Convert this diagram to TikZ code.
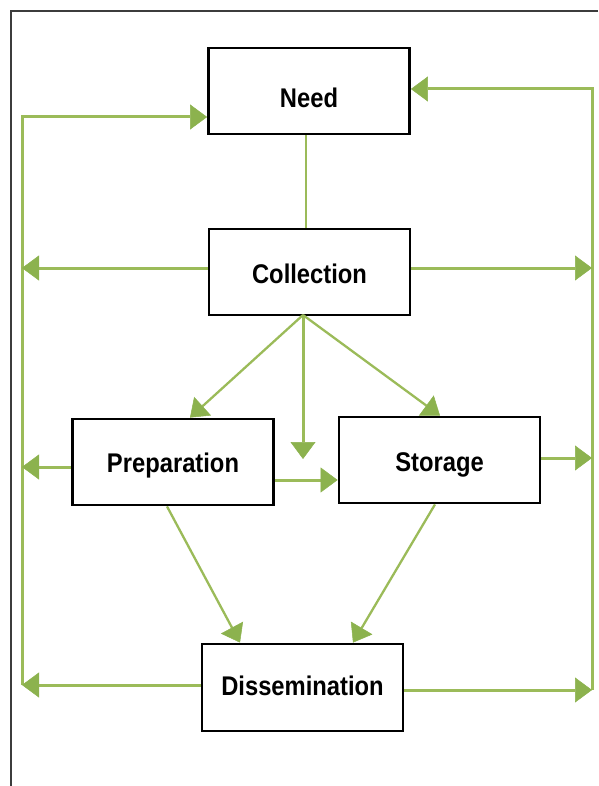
\documentclass[tikz,border=0pt]{standalone}
\usepackage{fontspec}
\newfontfamily\labelfont[FakeStretch=0.88]{Liberation Sans}
\usetikzlibrary{arrows.meta}
\definecolor{flowgreen}{RGB}{155,187,89}
\definecolor{headgreen}{RGB}{140,178,78}
\definecolor{framegray}{RGB}{60,60,60}
\tikzset{
  stage/.style={draw=black, line width=2.8pt, fill=white, inner sep=0pt,
    minimum width=201pt, minimum height=86pt, text depth=0pt,
    font=\labelfont\bfseries\fontsize{27}{30}\selectfont},
  flow/.style={draw=flowgreen, line width=3pt,
    -{Triangle[length=17pt,width=25pt,color=headgreen,fill=headgreen,line width=0.5pt]}},
  thinflow/.style={flow, line width=2.3pt},
  bus/.style={draw=flowgreen, line width=3pt}
}
\begin{document}
\begin{tikzpicture}[x=1pt,y=-1pt]
  \useasboundingbox (0,0) rectangle (598,786);
  % page frame
  \draw[framegray, line width=1.3pt] (598,11) -- (11,11) -- (11,786);

  % stages
  \node[stage, text height=33pt] (need) at (309,91) {Need};
  \node[stage, text height=23pt] (coll) at (309.5,272) {Collection};
  \node[stage, text height=20pt] (prep) at (173,462) {Preparation};
  \node[stage, text height=23pt] (stor) at (439.5,460) {Storage};
  \node[stage, minimum height=87pt, text height=15pt] (diss) at (302.5,687.5) {Dissemination};

  % feedback buses
  \coordinate (lbT) at (22,117);
  \coordinate (lbC) at (22,268);
  \coordinate (lbP) at (22,467);
  \coordinate (lbD) at (22,685);
  \coordinate (rbT) at (592,89);
  \coordinate (rbC) at (592,268);
  \coordinate (rbS) at (592,458);
  \coordinate (rbD) at (592,690);

  \draw[flow] (lbD) -- (lbT) -- (need.west |- lbT);
  \draw[flow] (rbD) -- (rbT) -- (need.east |- rbT);

  % stage outputs to the buses
  \draw[flow] (coll.west |- lbC) -- (lbC);
  \draw[flow] (prep.west |- lbP) -- (lbP);
  \draw[flow] (diss.west |- lbD) -- (lbD);
  \draw[flow] (coll.east |- rbC) -- (rbC);
  \draw[flow] (stor.east |- rbS) -- (rbS);
  \draw[flow] (diss.east |- rbD) -- (rbD);

  % need to collection
  \coordinate (nc) at (306,0);
  \draw[bus, line width=2.5pt] (need.south -| nc) -- (coll.north -| nc);

  % collection branches
  \coordinate (cb) at (303,315);
  \coordinate (cdown) at (303,459);
  \coordinate (pt) at (190,419);
  \coordinate (st) at (440,417);
  \draw[thinflow] (cb) -- (prep.north -| pt);
  \draw[flow] (cb) -- (cdown);
  \draw[thinflow] (cb) -- (stor.north -| st);

  % preparation to storage
  \coordinate (ps) at (0,480);
  \draw[flow] (prep.east |- ps) -- (stor.west |- ps);

  % towards dissemination
  \coordinate (pb) at (167,505);
  \coordinate (sb) at (435,503);
  \coordinate (dl) at (240,644);
  \coordinate (dr) at (353,644);
  \draw[thinflow] (prep.south -| pb) -- (diss.north -| dl);
  \draw[thinflow] (stor.south -| sb) -- (diss.north -| dr);
\end{tikzpicture}
\end{document}
